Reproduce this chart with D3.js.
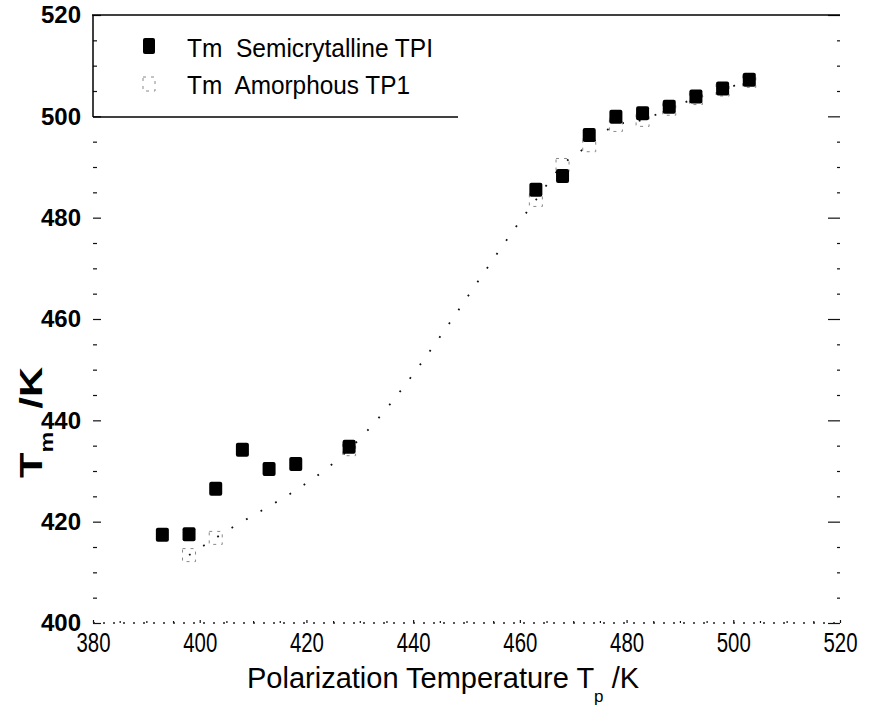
<!DOCTYPE html>
<html><head><meta charset="utf-8">
<script src="https://cdn.jsdelivr.net/npm/d3@7"></script>
<style>body{margin:0;background:#fff} svg{display:block} text{font-family:"Liberation Sans",Arial,sans-serif;fill:#000}</style>
</head><body><svg id="c" width="871" height="708"></svg>
<script>
// ---- data ----
const semiX = [393,398,403,408,413,418,428,463,468,473,478,483,488,493,498,503];
const semiY = [417.4,417.5,426.5,434.2,430.4,431.4,434.8,485.5,488.2,496.3,499.9,500.6,501.9,503.9,505.5,507.2];
const amorX = [398,403,428,463,468,473,478,483,488,493,498,503];
const amorY = [413.4,416.8,434.3,483.5,490.4,494.3,498.3,499.3,501.5,503.6,505.3,507.0];
const xTicks = [380,400,420,440,460,480,500,520];
const xTickLabels = ["380","400","420","440","460","480","500","520"];
const yTicks = [400,420,440,460,480,500,520];
const yTickLabels = ["400","420","440","460","480","500","520"];
const seriesNames = ["Tm  Semicrytalline TPI","Tm  Amorphous TP1"];

const svg = d3.select("#c");
const x = d3.scaleLinear().domain([380,520]).range([93,840]);
const y = d3.scaleLinear().domain([400,520]).range([623,15]);
const xMinor = d3.range(380,521,5).filter(v=>v%20!==0);
const yMinor = d3.range(400,521,5).filter(v=>v%20!==0);

function clean(g){ g.select(".domain").remove(); g.selectAll("line").attr("stroke","#111").attr("stroke-width",1.2); }

// left axis
svg.append("g").attr("transform",`translate(${x(380)},0)`)
  .call(d3.axisLeft(y).tickValues(yTicks).tickSize(-8).tickPadding(12).tickFormat((d,i)=>yTickLabels[i]))
  .call(clean)
  .selectAll("text").style("font-size","24px").style("font-weight","bold").attr("fill","#000");
svg.append("g").attr("transform",`translate(${x(380)},0)`)
  .call(d3.axisLeft(y).tickValues(yMinor).tickSize(-4).tickFormat(""))
  .call(clean);
// right axis ticks
svg.append("g").attr("transform",`translate(${x(520)},0)`)
  .call(d3.axisRight(y).tickValues(yTicks).tickSize(-12).tickFormat(""))
  .call(clean);
svg.append("g").attr("transform",`translate(${x(520)},0)`)
  .call(d3.axisRight(y).tickValues(yMinor).tickSize(-3).tickFormat(""))
  .call(clean);
// bottom axis
const gx = svg.append("g").attr("transform",`translate(0,${y(400)})`)
  .call(d3.axisBottom(x).tickValues(xTicks).tickSize(-3).tickPadding(9).tickFormat((d,i)=>xTickLabels[i]))
  .call(clean);
gx.selectAll("text").style("font-size","28px").attr("fill","#000")
  .attr("textLength",34).attr("lengthAdjust","spacingAndGlyphs");
svg.append("g").attr("transform",`translate(0,${y(400)})`)
  .call(d3.axisBottom(x).tickValues(xMinor).tickSize(-2).tickFormat(""))
  .call(clean);

// frame pieces
svg.append("line").attr("x1",x(380)-1).attr("x2",x(520)).attr("y1",y(520)).attr("y2",y(520))
  .attr("stroke","#000").attr("stroke-width",1.5);
svg.append("line").attr("x1",x(380)).attr("x2",x(520)).attr("y1",y(400)).attr("y2",y(400))
  .attr("stroke","#222").attr("stroke-width",1.3).attr("stroke-dasharray","2,8");

// legend box
svg.append("line").attr("x1",x(380)).attr("x2",x(380)).attr("y1",y(520)).attr("y2",117)
  .attr("stroke","#000").attr("stroke-width",1.5);
svg.append("line").attr("x1",x(380)).attr("x2",458).attr("y1",117).attr("y2",117)
  .attr("stroke","#000").attr("stroke-width",1.5);

// amorphous dotted line
const amor = amorX.map((v,i)=>({x:v,y:amorY[i]}));
const semi = semiX.map((v,i)=>({x:v,y:semiY[i]}));
svg.append("path").datum(amor)
  .attr("d",d3.line().x(d=>x(d.x)).y(d=>y(d.y)).curve(d3.curveMonotoneX))
  .attr("fill","none").attr("stroke","#111").attr("stroke-width",1.8).attr("stroke-dasharray","1.8,15");
// amorphous open squares (faint)
svg.append("g").selectAll("rect").data(amor).join("rect")
  .attr("x",d=>x(d.x)-6.5).attr("y",d=>y(d.y)-6.5).attr("width",13).attr("height",13)
  .attr("fill","none").attr("stroke","#888").attr("stroke-width",1).attr("stroke-dasharray","3,5");
// semicrystalline filled squares
svg.append("g").selectAll("rect").data(semi).join("rect")
  .attr("x",d=>x(d.x)-6.5).attr("y",d=>y(d.y)-7).attr("width",13).attr("height",14).attr("rx",2)
  .attr("fill","#000");

// legend entries
svg.append("rect").attr("x",143).attr("y",38).attr("width",12).attr("height",16).attr("rx",2).attr("fill","#000");
svg.append("text").attr("x",187).attr("y",57).style("font-size","25px").style("white-space","pre")
  .attr("textLength",246).attr("lengthAdjust","spacingAndGlyphs").text(seriesNames[0]);
svg.append("rect").attr("x",143).attr("y",77).attr("width",12).attr("height",14)
  .attr("fill","none").attr("stroke","#888").attr("stroke-width",1).attr("stroke-dasharray","3,5");
svg.append("text").attr("x",187).attr("y",94).style("font-size","25px").style("white-space","pre")
  .attr("textLength",223).attr("lengthAdjust","spacingAndGlyphs").text(seriesNames[1]);

// x axis title (single text with subscript)
const xt = svg.append("text").attr("x",247).attr("y",688).style("font-size","29px").style("white-space","pre");
xt.append("tspan").text("Polarization Temperature T");
xt.append("tspan").attr("dy",14).style("font-size","17px").text("p");
xt.append("tspan").attr("dy",-14).text(" /K");

// y axis title (single rotated text with subscript, stretched like the scan)
const yt = svg.append("text").attr("transform","translate(42,478) rotate(-90) scale(1.3,1)")
  .style("font-size","32px").style("font-weight","bold").style("white-space","pre");
yt.append("tspan").text("T");
yt.append("tspan").attr("dy",11).style("font-size","18px").text("m");
yt.append("tspan").attr("dy",-11).text("  /K");
</script></body></html>
